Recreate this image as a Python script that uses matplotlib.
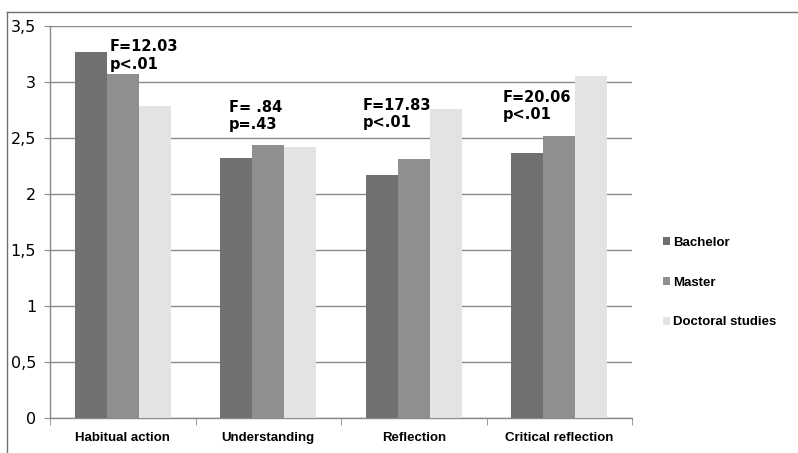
import matplotlib

matplotlib.use("Agg")
import matplotlib.pyplot as plt
from matplotlib.lines import Line2D
import numpy as np

categorias = ["Habitual action", "Understanding", "Reflection", "Critical reflection"]
series = ["Bachelor", "Master", "Doctoral studies"]
bachelor = [3.27, 2.32, 2.17, 2.37]
master = [3.07, 2.44, 2.31, 2.52]
doctoral = [2.79, 2.42, 2.76, 3.05]
anotaciones = ["F=12.03\np<.01", "F= .84\np=.43", "F=17.83\np<.01", "F=20.06\np<.01"]
# posicion (x, y) de cada anotacion en coordenadas de datos
pos_anot = [(-0.09, 3.38), (0.73, 2.84), (1.65, 2.86), (2.61, 2.93)]
yticks = [0, 0.5, 1, 1.5, 2, 2.5, 3, 3.5]
yticklabels = ["0", "0,5", "1", "1,5", "2", "2,5", "3", "3,5"]

COLORES = ["#707070", "#8f8f8f", "#e3e3e3"]
GRIS = "#8a8a8a"

fig = plt.figure(figsize=(7.98, 4.53), dpi=100)
ax = fig.add_axes([0.0627, 0.0773, 0.7293, 0.8653])

x = np.arange(len(categorias))
ancho = 0.22
for i, (vals, nombre) in enumerate(zip([bachelor, master, doctoral], series)):
    ax.bar(x + (i - 1) * ancho, vals, width=ancho, color=COLORES[i], label=nombre, zorder=3)

for texto, (tx, ty) in zip(anotaciones, pos_anot):
    ax.text(tx, ty, texto, ha="left", va="top", fontsize=10.5, fontweight="bold",
            family="DejaVu Sans", linespacing=1.2, zorder=4)

ax.set_xlim(-0.5, len(categorias) - 0.5)
ax.set_ylim(0, 3.5)
ax.set_yticks(yticks)
ax.set_yticklabels(yticklabels, fontsize=11.5, family="DejaVu Sans")
ax.yaxis.grid(True, color=GRIS, linewidth=1, zorder=0)
ax.set_axisbelow(True)

ax.set_xticks(x)
ax.set_xticklabels(categorias, fontsize=9.5, fontweight="bold", family="Liberation Sans")
ax.set_xticks(np.arange(-0.5, len(categorias)), minor=True)
ax.tick_params(axis="x", which="major", length=0, pad=10)
ax.tick_params(axis="x", which="minor", length=5, color=GRIS)
ax.tick_params(axis="y", length=4, color=GRIS, pad=6)

for lado in ["top", "right"]:
    ax.spines[lado].set_visible(False)
for lado in ["left", "bottom"]:
    ax.spines[lado].set_color(GRIS)
    ax.spines[lado].set_linewidth(1)

leg = ax.legend(loc="center left", bbox_to_anchor=(0.816, 0.376), bbox_transform=fig.transFigure,
                frameon=False, handlelength=0.55, handleheight=0.55, handletextpad=0.2,
                labelspacing=2.1, prop={"family": "Liberation Sans", "weight": "bold", "size": 9.5})

# marco exterior del grafico (recortado a la derecha y abajo)
fig.add_artist(Line2D([7 / 798, 1], [1 - 12 / 453, 1 - 12 / 453], transform=fig.transFigure,
                      color="#707070", linewidth=1))
fig.add_artist(Line2D([7 / 798, 7 / 798], [0, 1 - 12 / 453], transform=fig.transFigure,
                      color="#707070", linewidth=1))

fig.savefig("out.png", dpi=100)
